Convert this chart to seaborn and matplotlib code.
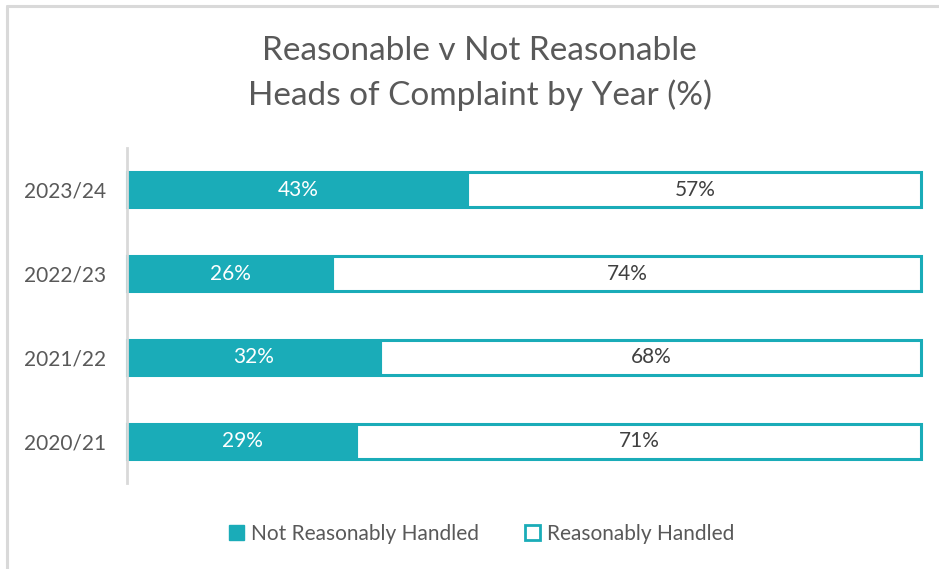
import matplotlib
matplotlib.use("Agg")
import matplotlib.pyplot as plt
from matplotlib.patches import Patch
from matplotlib.lines import Line2D
import seaborn as sns
import pandas as pd

years = ["2023/24", "2022/23", "2021/22", "2020/21"]
not_reasonable = [43, 26, 32, 29]
reasonable = [57, 74, 68, 71]
series_names = ["Not Reasonably Handled", "Reasonably Handled"]

teal = "#1AACB8"
grey_text = "#595959"
rule = "#D9D9D9"

sns.set_theme(style="white")
plt.rcParams["font.family"] = ["Lato", "DejaVu Sans"]

df = pd.DataFrame({
    "year": years,
    "not_reasonable": not_reasonable,
    "reasonable": reasonable,
})
df["total"] = df["not_reasonable"] + df["reasonable"]

fig = plt.figure(figsize=(9.39, 5.69), dpi=100)
ax = fig.add_axes([0.1353, 0.1511, 0.8456, 0.5888])

# Full-length outlined bar for the reasonable share, filled segment on top
sns.barplot(data=df, y="year", x="total", orient="h", order=years,
            color="white", edgecolor=teal, linewidth=2.2, width=0.42, ax=ax)
sns.barplot(data=df, y="year", x="not_reasonable", orient="h", order=years,
            color=teal, edgecolor=teal, linewidth=0.8, width=0.42, ax=ax,
            saturation=1)
for patch in ax.patches:
    patch.set_clip_on(False)

for i, (nr, r) in enumerate(zip(not_reasonable, reasonable)):
    ax.text(nr / 2, i, f"{nr}%", ha="center", va="center",
            color="white", fontsize=15)
    ax.text(nr + r / 2, i, f"{r}%", ha="center", va="center",
            color="#404040", fontsize=15)

ax.set_xlim(0, 100)
ax.set_ylim(3.5, -0.5)
ax.set_xlabel("")
ax.set_ylabel("")
ax.set_xticks([])
ax.tick_params(axis="y", length=0, pad=15, labelsize=15, labelcolor=grey_text)
for side in ["top", "right", "bottom"]:
    ax.spines[side].set_visible(False)
ax.spines["left"].set_color(rule)
ax.spines["left"].set_linewidth(2)

fig.text(0.511, 0.910, "Reasonable v Not Reasonable", ha="center", va="center",
         fontsize=24, color=grey_text)
fig.text(0.511, 0.833, "Heads of Complaint by Year (%)", ha="center", va="center",
         fontsize=24, color=grey_text)

handles = [
    Patch(facecolor=teal, edgecolor=teal, label=series_names[0]),
    Patch(facecolor="white", edgecolor=teal, linewidth=2, label=series_names[1]),
]
fig.legend(handles=handles, loc="center", bbox_to_anchor=(0.513, 0.062), ncol=2,
           frameon=False, fontsize=15, labelcolor=grey_text,
           handlelength=0.7, handleheight=0.7, handletextpad=0.35,
           columnspacing=2.2)

# Chart-area border along the top and left edges
fig.add_artist(Line2D([0.007, 1.0], [0.990, 0.990], color=rule, linewidth=2.2,
                      transform=fig.transFigure))
fig.add_artist(Line2D([0.007, 0.007], [0.0, 0.990], color=rule, linewidth=2.2,
                      transform=fig.transFigure))

fig.savefig("out.png", dpi=100, facecolor="white")
